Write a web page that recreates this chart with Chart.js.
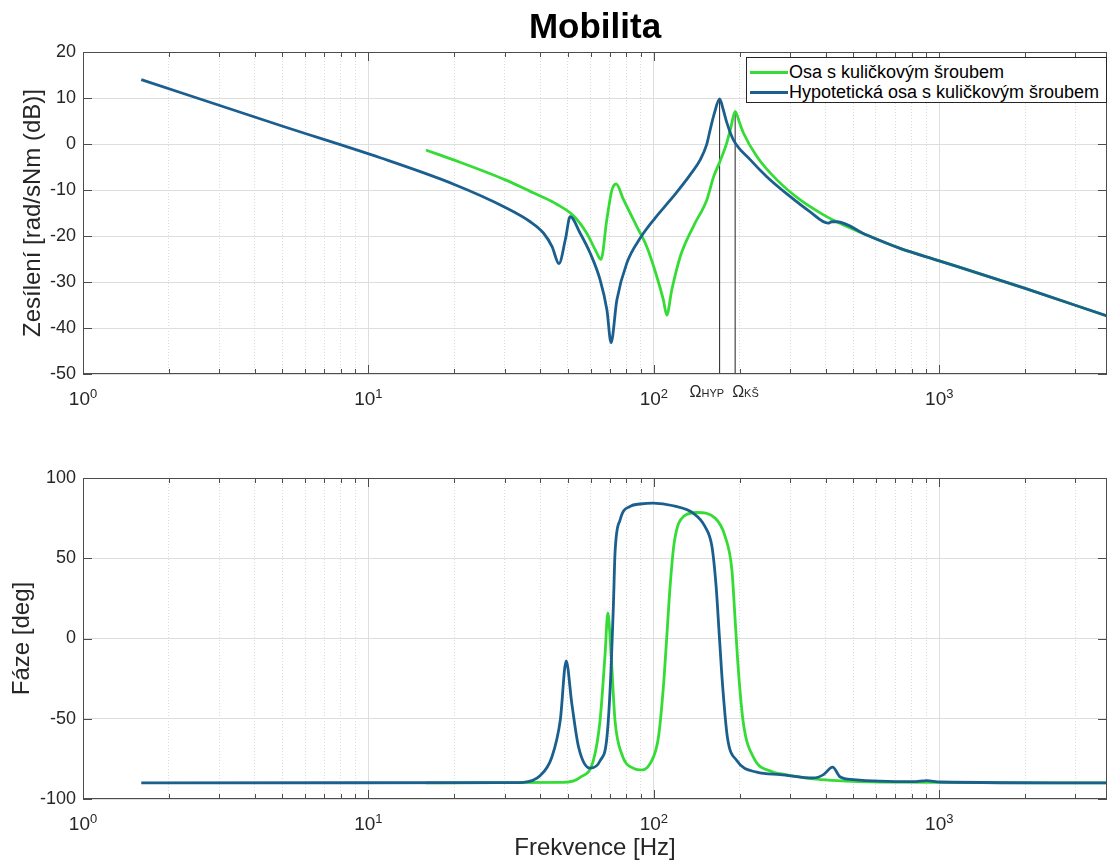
<!DOCTYPE html>
<html>
<head>
<meta charset="utf-8">
<script src="https://cdn.jsdelivr.net/npm/chart.js@4.4.1/dist/chart.umd.min.js"></script>
<style>
    html, body { margin: 0; padding: 0; background: #ffffff; }
    #page { position: relative; width: 1108px; height: 861px; overflow: hidden; font-family: "Liberation Sans", Arial, sans-serif; }
    #magnitudeWrap { position: absolute; left: 0; top: 0; }
    #phaseWrap { position: absolute; left: 0; top: 430px; }
    #legend { position: absolute; left: 746px; top: 57px; width: 361px; height: 46px; box-sizing: border-box;
              border: 1px solid #262626; background: #ffffff; padding-top: 4px; }
    .legend-row { display: flex; align-items: center; height: 20px; }
    .legend-line { width: 38px; height: 3px; margin-left: 3px; margin-right: 1px; }
    .legend-text { font-size: 18px; color: #000000; white-space: nowrap; }
</style>
</head>
<body>
<div id="page">
    <div id="magnitudeWrap"><canvas id="magnitudeGraph" width="1108" height="430"></canvas></div>
    <div id="phaseWrap"><canvas id="phaseGraph" width="1108" height="431"></canvas></div>
    <div id="legend"></div>
</div>
<script>
// x axis (frequency, log)
const xMin = 1;
const xMax = 3870;
const xDecades = [1, 10, 100, 1000];
const xDecadeExponents = ['0', '1', '2', '3'];
const xMinorSteps = [2, 3, 4, 5, 6, 7, 8, 9];

// y axes
const magMin = -50, magMax = 20, magStep = 10;
const phaseMin = -100, phaseMax = 100, phaseStep = 50;

// series names
const labelKs = 'Osa s kuličkovým šroubem';
const labelHyp = 'Hypotetická osa s kuličkovým šroubem';

// magnitude, ball screw axis [Hz] / [dB]
const magFreqKs = [15.9, 20, 30.2, 36.9, 40, 45.7, 52.3, 58.2, 62.8, 65.3, 68.4, 71.3, 73.8, 78.3, 87.1, 94.4,
    102.4, 108, 111, 115.6, 123.7, 137.6, 153.4, 162, 170.7, 180, 186, 192.7, 199, 206, 229.6, 269.9, 325, 393,
    437, 557, 729, 1000, 2000, 3870];
const magKs = [-1.3, -3.5, -7.8, -10.3, -11.3, -13.1, -15.6, -19.4, -23.4, -25.1, -16.5, -10.0, -8.7, -12.1, -17.9, -22.3,
    -28.8, -33.9, -37.2, -31.7, -24.5, -17.9, -12.1, -7.1, -3.7, 0.2, 3.5, 7.1, 4.9, 2.4, -2.7, -7.8, -12.1, -15.4,
    -16.9, -19.8, -22.7, -25.4, -31.4, -37.4];

// magnitude, hypothetical axis [Hz] / [dB]
const magFreqHyp = [1.6, 5.04, 11.0, 20, 30.2, 36.9, 41.1, 44, 46.5, 49, 50.9, 55.2, 59.8, 64.8, 68.5, 70.8,
    74.2, 80.4, 89.5, 101, 117, 134, 145.5, 153, 157.8, 163, 170, 175, 180.3, 190, 217.5, 248.7, 300, 352,
    408, 420, 437, 557, 729, 1000, 2000, 3870];
const magHyp = [14.0, 3.8, -3.0, -8.8, -13.8, -16.9, -19.4, -22.3, -26.0, -20.7, -15.8, -19.4, -23.7, -29.5, -36.1, -43.2,
    -33.9, -25.9, -20.5, -16.1, -11.4, -6.7, -3.4, -0.2, 3.3, 6.7, 9.8, 7.5, 4.6, 0.9, -3.4, -7.1, -11.4, -14.7,
    -17.2, -16.9, -16.9, -19.8, -22.7, -25.4, -31.4, -37.4];

// phase, ball screw axis [Hz] / [deg]
const phaseFreqKs = [15.9, 48.2, 55.2, 61.4, 64.8, 67.5, 69, 70.8, 73.1, 77.2, 86, 89.5, 97, 103.8, 108, 111,
    114, 117.8, 127, 141.5, 164, 177.8, 187.7, 192.7, 197.8, 206, 223.4, 262.4, 277, 362, 423, 620, 3870];
const phaseKs = [-90, -89.6, -86.5, -76, -51, -9.4, 16, -9.4, -51, -72, -81.3, -81.9, -78, -61.5, -30.2, 1,
    32.3, 59.4, 76, 78.5, 75, 63.5, 42.7, 11.5, -19.8, -53, -74, -83.3, -84.2, -87.5, -88.4, -89.5, -90];

// phase, hypothetical axis [Hz] / [deg]
const phaseFreqHyp = [1.6, 30, 34.9, 40, 43.9, 47, 49.3, 51.6, 54.5, 59.8, 64.9, 68.5, 70.8, 72.2, 73.1, 76.2,
    82.6, 89.5, 99.5, 117, 137.6, 151, 159.8, 165.3, 169.7, 174.3, 181, 195.2, 229.4, 277, 362, 393, 423, 450,
    500, 811, 903, 1007, 3870];
const phaseHyp = [-90, -89.8, -89.6, -85.4, -74, -51, -14, -40.6, -67.7, -80.8, -76, -61.5, -19.8, 21.9, 53, 74,
    82.3, 83.8, 84.4, 82.7, 78, 69.8, 57.3, 32.3, 1, -30.2, -61.5, -76, -83.3, -84.8, -86.9, -84.8, -80.2, -86.3,
    -87.9, -89.2, -88.5, -89.4, -90];

// resonance markers
const omegaFreqs = [170, 192.7];
const omegaPeaks = [9.8, 7.1];
const omegaSubscripts = ['HYP', 'KŠ'];

// styles
const colorKs = '#36dc36';
const colorHyp = '#1b5f8e';
const textColor = '#262626';
const majorGridColor = '#dedede';
const minorGridColor = '#dcdcdc';
const fontFamily = '"Liberation Sans", Arial, sans-serif';

Chart.defaults.font.family = fontFamily;
Chart.defaults.color = textColor;

// pair frequency and value arrays into points
function _to_points(freqs, values) {
    return freqs.map((f, i) => ({ x: f, y: values[i] }));
}

// ticks at 1..9 x 10^n like a matlab log axis
function _build_log_ticks() {
    var ticks = [];
    xDecades.forEach(d => {
        ticks.push({ value: d, major: true });
        xMinorSteps.forEach(m => {
            if (d * m <= xMax) { ticks.push({ value: d * m, major: false }); }
        });
    });
    return ticks;
}

// box, inward ticks and 10^n labels drawn on top of the axes
const matlabAxesPlugin = {
    id: 'matlabAxes',
    afterDraw(chart) {
        const { ctx, chartArea: a, scales: { x, y } } = chart;
        ctx.save();
        ctx.strokeStyle = '#4d4d4d';
        ctx.lineWidth = 1;
        ctx.beginPath();
        x.ticks.forEach(t => {
            const px = Math.round(x.getPixelForValue(t.value)) + 0.5;
            const len = t.major ? 9 : 5;
            ctx.moveTo(px, a.bottom); ctx.lineTo(px, a.bottom - len);
            ctx.moveTo(px, a.top); ctx.lineTo(px, a.top + len);
        });
        y.ticks.forEach(t => {
            const py = Math.round(y.getPixelForValue(t.value)) + 0.5;
            ctx.moveTo(a.left, py); ctx.lineTo(a.left + 9, py);
            ctx.moveTo(a.right, py); ctx.lineTo(a.right - 9, py);
        });
        ctx.stroke();
        ctx.strokeRect(a.left + 0.5, a.top + 0.5, a.right - a.left - 1, a.bottom - a.top - 1);

        ctx.fillStyle = textColor;
        ctx.textBaseline = 'alphabetic';
        ctx.textAlign = 'left';
        xDecades.forEach((d, i) => {
            const px = x.getPixelForValue(d);
            ctx.font = '19px ' + fontFamily;
            const wb = ctx.measureText('10').width;
            ctx.font = '13px ' + fontFamily;
            const we = ctx.measureText(xDecadeExponents[i]).width;
            const left = px - (wb + we) / 2;
            ctx.font = '19px ' + fontFamily;
            ctx.fillText('10', left, a.bottom + 31);
            ctx.font = '13px ' + fontFamily;
            ctx.fillText(xDecadeExponents[i], left + wb, a.bottom + 24);
        });
        ctx.restore();
    }
};

// omega labels under the resonance lines
const omegaLabelPlugin = {
    id: 'omegaLabels',
    afterDraw(chart) {
        const { ctx, chartArea: a, scales: { x } } = chart;
        ctx.save();
        ctx.fillStyle = textColor;
        ctx.textBaseline = 'alphabetic';
        ctx.textAlign = 'left';
        omegaFreqs.forEach((f, i) => {
            const px = x.getPixelForValue(f);
            const left = i == 0 ? px - 30 : px - 3;
            ctx.font = '16px ' + fontFamily;
            ctx.fillText('Ω', left, a.bottom + 23);
            const w = ctx.measureText('Ω').width;
            ctx.font = '11px ' + fontFamily;
            ctx.fillText(omegaSubscripts[i], left + w, a.bottom + 23);
        });
        ctx.restore();
    }
};

// shared x scale
function _build_x_scale(height, title) {
    return {
        type: 'logarithmic',
        min: xMin,
        max: xMax,
        afterBuildTicks: scale => { scale.ticks = _build_log_ticks(); },
        afterFit: scale => { scale.height = height; },
        ticks: { display: false },
        grid: {
            drawTicks: false,
            lineWidth: 1,
            color: ctx => (ctx.tick && !ctx.tick.major) ? minorGridColor : majorGridColor
        },
        border: { display: false, dash: ctx => (ctx.tick && !ctx.tick.major) ? [1, 2] : [] },
        title: title
    };
}

// shared y scale
function _build_y_scale(min, max, step, title, titlePad) {
    return {
        min: min,
        max: max,
        afterFit: scale => { scale.width = 83; },
        ticks: { stepSize: step, padding: 7, font: { size: 18 }, color: textColor },
        grid: { drawTicks: false, color: majorGridColor, lineWidth: 1 },
        border: { display: false },
        title: { display: true, text: title, font: { size: 24 }, color: textColor, padding: { top: titlePad, bottom: 0 } }
    };
}

function _line_dataset(label, points, color, order) {
    return {
        label: label,
        data: points,
        borderColor: color,
        backgroundColor: color,
        borderWidth: 2.8,
        pointRadius: 0,
        cubicInterpolationMode: 'monotone',
        order: order
    };
}

// build config for magnitude graph
function _build_magnitude_config() {
    var datasets = [
        _line_dataset(labelKs, _to_points(magFreqKs, magKs), colorKs, 1),
        _line_dataset(labelHyp, _to_points(magFreqHyp, magHyp), colorHyp, 0)
    ];
    omegaFreqs.forEach((f, i) => {
        datasets.push({
            data: [{ x: f, y: magMin }, { x: f, y: omegaPeaks[i] }],
            borderColor: '#222222',
            borderWidth: 1,
            pointRadius: 0,
            order: 2
        });
    });
    return {
        type: 'line',
        data: { datasets: datasets },
        options: {
            responsive: false,
            animation: false,
            events: [],
            layout: { padding: { top: 0, right: 1, bottom: 0, left: 0 } },
            plugins: {
                legend: { display: false },
                tooltip: { enabled: false },
                title: {
                    display: true, text: 'Mobilita', fullSize: false, color: '#000000',
                    font: { size: 35, weight: 'bold' }, padding: { top: 7, bottom: 3 }
                }
            },
            scales: {
                x: _build_x_scale(56, { display: false }),
                y: _build_y_scale(magMin, magMax, magStep, 'Zesílení [rad/sNm (dB)]', 19)
            }
        },
        plugins: [matlabAxesPlugin, omegaLabelPlugin]
    };
}

// build config for phase graph
function _build_phase_config() {
    return {
        type: 'line',
        data: {
            datasets: [
                _line_dataset(labelKs, _to_points(phaseFreqKs, phaseKs), colorKs, 1),
                _line_dataset(labelHyp, _to_points(phaseFreqHyp, phaseHyp), colorHyp, 0)
            ]
        },
        options: {
            responsive: false,
            animation: false,
            events: [],
            layout: { padding: { top: 48, right: 1, bottom: 0, left: 0 } },
            plugins: { legend: { display: false }, tooltip: { enabled: false } },
            scales: {
                x: _build_x_scale(62, {
                    display: true, text: 'Frekvence [Hz]', font: { size: 24 }, color: textColor,
                    padding: { top: 0, bottom: -2 }
                }),
                y: _build_y_scale(phaseMin, phaseMax, phaseStep, 'Fáze [deg]', 8)
            }
        },
        plugins: [matlabAxesPlugin]
    };
}

// html legend in the upper right corner of the magnitude axes
function create_legend(chart) {
    const box = document.getElementById('legend');
    chart.data.datasets.filter(ds => ds.label).forEach(ds => {
        const row = document.createElement('div');
        row.className = 'legend-row';
        const line = document.createElement('div');
        line.className = 'legend-line';
        line.style.background = ds.borderColor;
        const text = document.createElement('span');
        text.className = 'legend-text';
        text.innerText = ds.label;
        row.appendChild(line);
        row.appendChild(text);
        box.appendChild(row);
    });
}

const magnitudeGraph = new Chart('magnitudeGraph', _build_magnitude_config());
const phaseGraph = new Chart('phaseGraph', _build_phase_config());
create_legend(magnitudeGraph);
</script>
</body>
</html>
